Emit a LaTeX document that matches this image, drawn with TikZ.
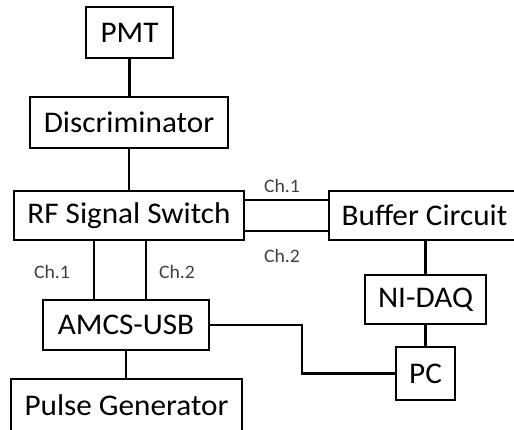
\documentclass[tikz,border=0pt]{standalone}
\usepackage{fontspec}
\setmainfont{Carlito}[FakeStretch=1.04]
\usepackage{tikz}
\usetikzlibrary{positioning,calc}
\usepackage{xcolor}
\definecolor{LabelGray}{HTML}{404040}

\begin{document}
\begin{tikzpicture}[x=1pt, y=-1pt,
    box/.style={draw=black, line width=1.2pt, fill=white, inner sep=0pt, font=\fontsize{30}{32}\selectfont},
    chlabel/.style={font=\fontsize{19}{21}\selectfont, text=LabelGray, inner sep=0pt, anchor=north},
    wire/.style={draw=black, line width=2.6pt}
  ]
    \useasboundingbox (0,0) rectangle (514,430);
    \clip (0,0) rectangle (514,430);

    \node[box, minimum width=87pt, minimum height=51pt] (pmt) at (129.5, 32.5) {PMT};
    \node[box, minimum width=198pt, minimum height=51pt] (disc) at (129, 122.5) {Discriminator};
    \node[box, minimum width=230pt, minimum height=49pt] (rf) at (129, 215.5) {RF Signal Switch};
    \node[box, minimum width=191pt, minimum height=49pt] (buf) at (424.5, 215.5) {Buffer Circuit};
    \node[box, minimum width=121pt, minimum height=49pt] (nidaq) at (425.5, 299.5) {NI-DAQ};
    \node[box, minimum width=166pt, minimum height=50pt] (amcs) at (126, 325) {AMCS-USB};
    \node[box, minimum width=59pt, minimum height=53pt] (pc) at (425.5, 373.5) {PC};
    \node[box, minimum width=231pt, minimum height=52pt] (pulse) at (126.5, 405) {Pulse Generator};

    \node[chlabel] (ch1top) at (282, 179) {Ch.1};
    \node[chlabel] (ch2top) at (282, 249) {Ch.2};
    \node[chlabel] (ch1bot) at (52, 265) {Ch.1};
    \node[chlabel] (ch2bot) at (177, 265) {Ch.2};

    \draw[wire] (pmt.south) -- (disc.north -| pmt.south);
    \draw[wire] (disc.south) -- (rf.north -| disc.south);
    \draw[wire] ([yshift=15.5pt]rf.east) -- ([yshift=15.5pt]buf.west);
    \draw[wire] ([yshift=-15.5pt]rf.east) -- ([yshift=-15.5pt]buf.west);
    \draw[wire] ([xshift=-32pt]amcs.north) -- ([xshift=-32pt]amcs.north |- rf.south);
    \draw[wire] ([xshift=20pt]amcs.north) -- ([xshift=20pt]amcs.north |- rf.south);
    \draw[wire] (nidaq.north) -- (nidaq.north |- buf.south);
    \draw[wire] (nidaq.south) -- (pc.north -| nidaq.south);
    \draw[wire] (amcs.south) -- (pulse.north -| amcs.south);
    \draw[wire] (amcs.east) -- (amcs.east -| 302,0) |- (pc.west);
  \end{tikzpicture}
\end{document}
